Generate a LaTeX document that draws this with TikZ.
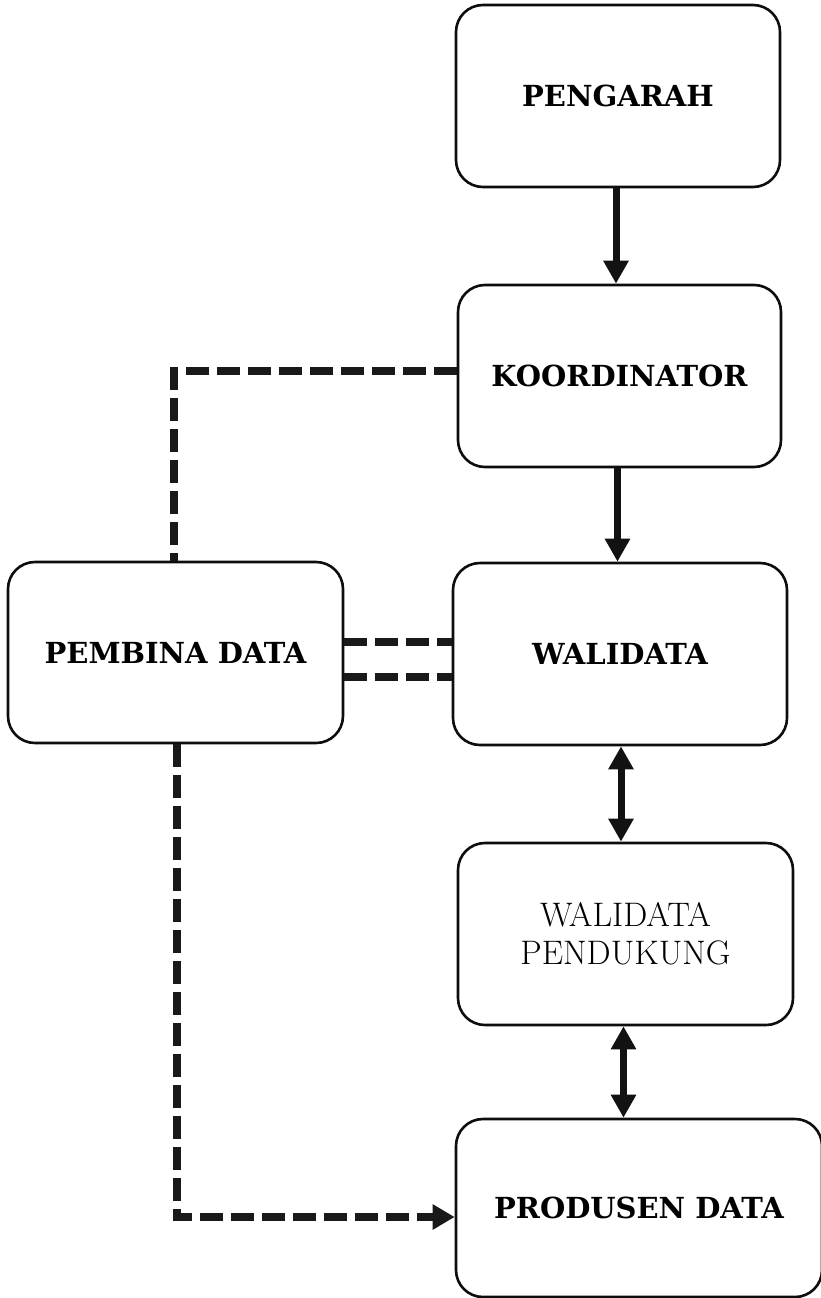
\documentclass[tikz,border=0pt]{standalone}
\usepackage{fontspec}
\newfontfamily\boldserif{DejaVu Serif}
\usetikzlibrary{arrows.meta}
\begin{document}
\begin{tikzpicture}[x=1pt,y=-1pt,
  box/.style={draw=black!95, line width=2.6pt, rounded corners=27pt, inner sep=0pt, align=center, fill=white},
  bold/.style={font=\boldserif\fontsize{29pt}{34pt}\selectfont\bfseries},
  plain/.style={font=\fontsize{34pt}{38pt}\selectfont},
  solidarr/.style={line width=7pt, draw=black!93, -{Triangle[length=23pt,width=24pt]}},
  biarr/.style={line width=7pt, draw=black!93, {Triangle[length=23pt,width=24pt]}-{Triangle[length=23pt,width=24pt]}},
  dashline/.style={line width=8pt, draw=black!90, dash pattern=on 23pt off 8pt},
  dasharr/.style={dashline, -{Triangle[length=22pt,width=24pt]}}
]
\useasboundingbox (0,0) rectangle (820,1298);
\fill[white] (0,0) rectangle (820,1298);

\node[box, bold, minimum width=324pt, minimum height=182pt] (peng) at (618,96) {PENGARAH};
\node[box, bold, minimum width=323pt, minimum height=182pt] (koor) at (619.5,376) {KOORDINATOR};
\node[box, bold, minimum width=334pt, minimum height=182pt] (wali) at (620,654) {WALIDATA};
\node[box, bold, minimum width=335pt, minimum height=181pt] (pemb) at (175.5,652.5) {PEMBINA DATA};
\node[box, plain, minimum width=335pt, minimum height=182pt] (pend) at (625.5,934) {WALIDATA\\PENDUKUNG};
\node[box, bold, minimum width=366pt, minimum height=178pt] (prod) at (639,1208) {PRODUSEN DATA};

% solid arrows
\draw[solidarr] ([xshift=-2pt]peng.south) -- ([xshift=-2pt]peng.south |- koor.north);
\draw[solidarr] ([xshift=-2pt]koor.south) -- ([xshift=-2pt]koor.south |- wali.north);
\draw[biarr] ([xshift=1pt]wali.south) -- ([xshift=1pt]wali.south |- pend.north);
\draw[biarr] ([xshift=-2pt]pend.south) -- ([xshift=-2pt]pend.south |- prod.north);

% dashed connections
\coordinate (c1) at (174,371);
\draw[dashline] (koor.west |- c1) -- (c1) -- (c1 |- pemb.north);
\draw[dashline] (pemb.east |- 0,642) -- (wali.west |- 0,642);
\draw[dashline] (pemb.east |- 0,677) -- (wali.west |- 0,677);
\coordinate (c2) at (177,1217);
\draw[dasharr] (c2 |- pemb.south) -- (c2) -- (prod.west |- c2);
\end{tikzpicture}
\end{document}
